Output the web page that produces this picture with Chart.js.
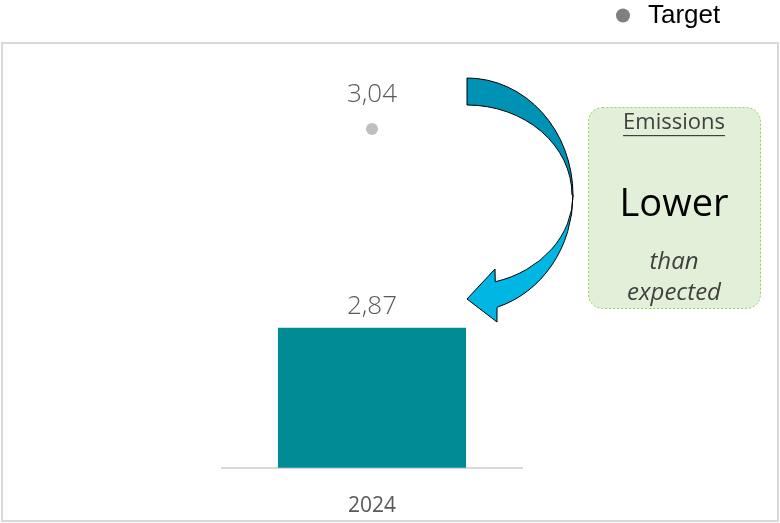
<!DOCTYPE html>
<html>
<head>
<meta charset="utf-8">
<script src="https://cdn.jsdelivr.net/npm/chart.js@4.4.1/dist/chart.umd.min.js"></script>
<style>
  html, body { margin: 0; padding: 0; background: #ffffff; }
  #wrap { position: relative; width: 780px; height: 523px; }
  canvas { display: block; }
</style>
</head>
<body>
<div id="wrap"><canvas id="c" width="780" height="523"></canvas></div>
<script>
// ---- data ----
const categories = ['2024'];
const emissionsValues = [2.87];
const targetValues = [3.04];
const seriesNames = ['Emissions', 'Target'];
const calloutTitle = 'Emissions';
const calloutMain = 'Lower';
const calloutSub = ['than', 'expected'];

const fmt = v => v.toFixed(2).replace('.', ',');
const LABEL_FONT = '300 26px "Open Sans", "Noto Sans", sans-serif';

const decorPlugin = {
  id: 'decor',
  beforeDraw(chart) {
    const ctx = chart.ctx;
    ctx.save();
    ctx.strokeStyle = '#d9d9d9';
    ctx.lineWidth = 2;
    ctx.strokeRect(2, 43, 776, 478);
    ctx.restore();
  },
  afterDatasetsDraw(chart) {
    const ctx = chart.ctx;
    ctx.save();
    // data labels
    ctx.font = LABEL_FONT;
    ctx.fillStyle = '#595959';
    ctx.textAlign = 'center';
    ctx.textBaseline = 'middle';
    chart.getDatasetMeta(0).data.forEach((el, i) => {
      ctx.fillText(fmt(emissionsValues[i]), el.x, el.y - 21);
    });
    chart.getDatasetMeta(1).data.forEach((el, i) => {
      ctx.fillText(fmt(targetValues[i]), el.x, el.y - 34);
    });

    // legend (Target)
    ctx.fillStyle = '#808080';
    ctx.beginPath();
    ctx.arc(623, 15.5, 7, 0, Math.PI * 2);
    ctx.fill();
    ctx.fillStyle = '#000000';
    ctx.font = '26px "Liberation Sans", Arial, sans-serif';
    ctx.textAlign = 'left';
    ctx.fillText(seriesNames[1], 648, 16);

    // curved arrow - upper (dark) part
    ctx.lineWidth = 1;
    ctx.strokeStyle = '#000000';
    ctx.fillStyle = '#0092B4';
    ctx.beginPath();
    ctx.moveTo(467, 78);
    ctx.ellipse(467, 195, 106, 117, 0, -Math.PI / 2, 0, false);
    ctx.ellipse(467, 195, 105, 90, 0, 0, -Math.PI / 2, true);
    ctx.closePath();
    ctx.fill();
    ctx.stroke();

    // lower (light) part with arrowhead
    const t1 = Math.acos(28 / 105);
    const t2 = Math.acos(30 / 105);
    ctx.fillStyle = '#00B6E2';
    ctx.beginPath();
    ctx.moveTo(573, 195);
    ctx.ellipse(467, 195, 106, 90, 0, 0, t1, false);
    ctx.lineTo(495, 269);
    ctx.lineTo(467, 299);
    ctx.lineTo(497, 322);
    ctx.lineTo(497, 308);
    ctx.ellipse(467, 195, 106, 117, 0, t2, 0, true);
    ctx.closePath();
    ctx.fill();
    ctx.stroke();

    // callout box
    const bx = 588, by = 107, bw = 172, bh = 201, r = 14;
    ctx.beginPath();
    ctx.roundRect(bx + 0.5, by + 0.5, bw, bh, r);
    ctx.fillStyle = '#E2F0D9';
    ctx.fill();
    ctx.setLineDash([2, 2]);
    ctx.strokeStyle = '#92D050';
    ctx.stroke();
    ctx.setLineDash([]);

    const cx = 674;
    ctx.textAlign = 'center';
    ctx.textBaseline = 'middle';
    ctx.fillStyle = '#404040';
    ctx.font = '22px "Open Sans", "Noto Sans", sans-serif';
    ctx.fillText(calloutTitle, cx, 123);
    const w = ctx.measureText(calloutTitle).width;
    ctx.fillRect(cx - w / 2, 135, w, 1.2);

    ctx.fillStyle = '#000000';
    ctx.font = '38px "Open Sans", "Noto Sans", sans-serif';
    ctx.fillText(calloutMain, cx, 205);

    ctx.fillStyle = '#404040';
    ctx.font = 'italic 24px "Open Sans", "Noto Sans", sans-serif';
    ctx.fillText(calloutSub[0], cx, 262);
    ctx.fillText(calloutSub[1], cx, 293);
    ctx.restore();
  }
};

new Chart(document.getElementById('c'), {
  data: {
    labels: categories,
    datasets: [
      {
        type: 'bar',
        label: seriesNames[0],
        data: emissionsValues,
        backgroundColor: '#008B95',
        categoryPercentage: 1,
        barPercentage: 0.627,
        order: 2
      },
      {
        type: 'line',
        label: seriesNames[1],
        data: targetValues,
        showLine: false,
        pointRadius: 6,
        pointHoverRadius: 6,
        pointBorderWidth: 0,
        pointBackgroundColor: '#bfbfbf',
        pointBorderColor: '#bfbfbf',
        order: 1
      }
    ]
  },
  options: {
    responsive: false,
    animation: false,
    layout: { padding: { left: 222, right: 258, top: 59, bottom: -22 } },
    plugins: {
      legend: { display: false },
      tooltip: { enabled: false }
    },
    scales: {
      x: {
        grid: { display: false, drawTicks: false },
        border: { display: true, color: '#d9d9d9', width: 2 },
        ticks: {
          color: '#595959',
          font: { family: '"Open Sans", "Noto Sans", sans-serif', size: 21 },
          padding: 26
        }
      },
      y: {
        display: false,
        min: 2.75,
        max: 3.1
      }
    }
  },
  plugins: [decorPlugin]
});
</script>
</body>
</html>
